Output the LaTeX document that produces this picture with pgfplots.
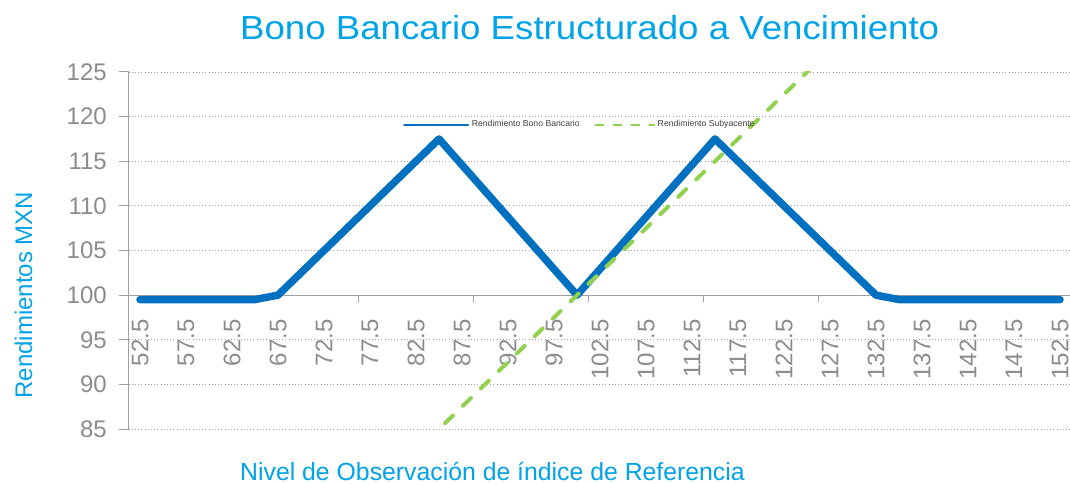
\documentclass[border=0pt]{standalone}
\usepackage{fontspec}
\setmainfont{Liberation Sans}
\newfontfamily\titlefont{Liberation Sans}[FakeStretch=1.1]
\usepackage{pgfplots}
\pgfplotsset{compat=1.18}
\definecolor{bonoblue}{HTML}{0070C0}
\definecolor{subgreen}{HTML}{92D050}
\definecolor{titleblue}{HTML}{00A2E8}
\definecolor{tickgray}{HTML}{8C8C8C}
\definecolor{axisgray}{HTML}{A0A0A0}
\definecolor{legtext}{HTML}{404040}
\begin{document}
\begin{tikzpicture}
\useasboundingbox (0,0) rectangle (802.5pt,362.25pt);
\begin{axis}[
  at={(96.375pt,40.5pt)}, anchor=south west,
  scale only axis, width=707.25pt, height=267.75pt,
  xmin=51.25, xmax=153.75, ymin=85, ymax=125,
  axis y line*=left, axis x line*=bottom,
  axis x line shift=-100.41pt,
  axis line style={axisgray, line width=0.75pt, -},
  tick align=outside,
  major tick length=7.5pt,
  ytick={85,90,...,125},
  ymajorgrids,
  grid style={axisgray, dotted, line width=0.6pt},
  /pgf/number format/assume math mode=true,
  tick label style={font=\fontsize{18}{20}\selectfont, text=tickgray},
  yticklabel style={xshift=-5.25pt},
  every y tick/.style={draw=axisgray, line width=0.75pt},
  xtick={52.5,57.5,...,152.5},
  xticklabels={52.5,57.5,62.5,67.5,72.5,77.5,82.5,87.5,92.5,97.5,102.5,107.5,112.5,117.5,122.5,127.5,132.5,137.5,142.5,147.5,152.5},
  xticklabel style={rotate=90, anchor=east, inner xsep=10.5pt},
  xtick style={draw=none},
  extra x ticks={51.25,63.75,76.25,88.75,101.25,113.75,126.25,138.75,151.25},
  extra x tick labels={},
  extra x tick style={grid=none, xtick style={draw=axisgray, line width=0.75pt}, major tick length=5pt},
  title={Bono Bancario Estructurado a Vencimiento},
  title style={at={(axis description cs:0.489,1)}, anchor=base, yshift=18pt, font=\titlefont\fontsize{25}{28}\selectfont, text=titleblue},
  xlabel={Nivel de Observación de índice de Referencia},
  xlabel style={at={(axis description cs:0.386,0)}, anchor=base, yshift=-38.25pt, font=\fontsize{18.6}{20}\selectfont, text=titleblue},
  ylabel={Rendimientos MXN},
  ylabel style={at={(axis description cs:-0.1023,0.375)}, anchor=base, font=\fontsize{18}{20}\selectfont, text=titleblue},
  legend style={at={(axis description cs:0.479,0.852)}, anchor=center, draw=none, fill=none, font=\fontsize{6.5}{7}\selectfont, text=legtext, legend columns=2, /tikz/every even column/.append style={column sep=9pt}},
]
\addplot[bonoblue, line width=5.6pt, line join=round, line cap=round,
  legend image code/.code={\draw[bonoblue, line width=1.5pt] (0pt,0pt) -- (48pt,0pt);}]
  coordinates {
  (52.5,99.5)(55,99.5)(57.5,99.5)(60,99.5)(62.5,99.5)(65,99.5)(67.5,100)
  (70,102.5)(72.5,105)(75,107.5)(77.5,110)(80,112.5)(82.5,115)(85,117.5)
  (87.5,114.583)(90,111.667)(92.5,108.75)(95,105.833)(97.5,102.917)(100,100)
  (102.5,102.917)(105,105.833)(107.5,108.75)(110,111.667)(112.5,114.583)(115,117.5)
  (117.5,115)(120,112.5)(122.5,110)(125,107.5)(127.5,105)(130,102.5)(132.5,100)
  (135,99.5)(137.5,99.5)(140,99.5)(142.5,99.5)(145,99.5)(147.5,99.5)(150,99.5)(152.5,99.5)
  };
\addlegendentry{Rendimiento Bono Bancario}
\addplot[subgreen, line width=3pt, line cap=round, dash pattern=on 8.25pt off 10.5pt,
  legend image code/.code={\draw[subgreen, line width=1.5pt, dash pattern=on 6pt off 7.5pt] (0pt,0pt) -- (44pt,0pt);}]
  coordinates {
  (52.5,52.5)(55,55)(57.5,57.5)(60,60)(62.5,62.5)(65,65)(67.5,67.5)(70,70)
  (72.5,72.5)(75,75)(77.5,77.5)(80,80)(82.5,82.5)(85,85)(87.5,87.5)(90,90)
  (92.5,92.5)(95,95)(97.5,97.5)(100,100)(102.5,102.5)(105,105)(107.5,107.5)
  (110,110)(112.5,112.5)(115,115)(117.5,117.5)(120,120)(122.5,122.5)(125,125)
  (127.5,127.5)(130,130)(132.5,132.5)(135,135)(137.5,137.5)(140,140)(142.5,142.5)
  (145,145)(147.5,147.5)(150,150)(152.5,152.5)
  };
\addlegendentry{Rendimiento Subyacente}
\end{axis}
\end{tikzpicture}
\end{document}
